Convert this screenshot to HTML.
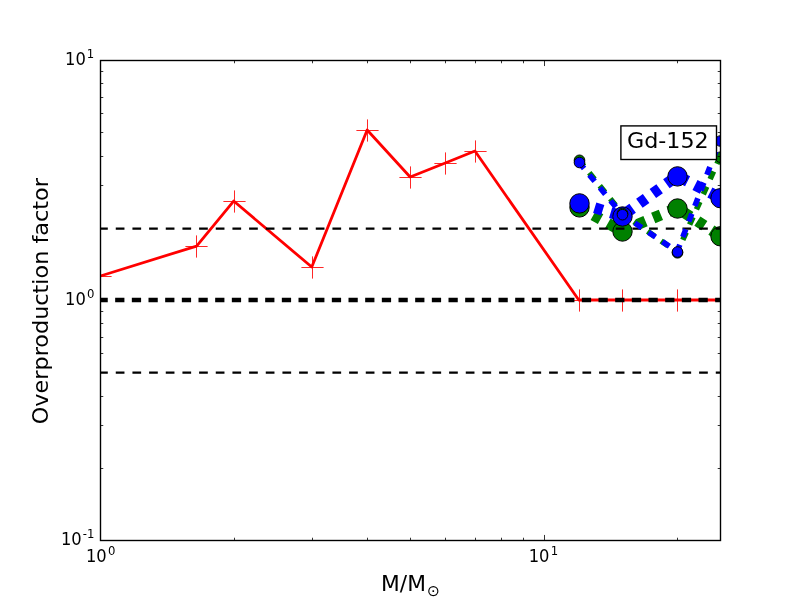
<!DOCTYPE html>
<html><head><meta charset="utf-8"><title>Gd-152 overproduction factor</title>
<style>
html,body{margin:0;padding:0;background:#fff;}
body{width:800px;height:600px;overflow:hidden;}
svg{display:block;}
text{font-family:"DejaVu Sans","Liberation Sans",sans-serif;fill:#000;}
</style></head><body>
<svg width="800" height="600" viewBox="0 0 800 600">
<rect x="0" y="0" width="800" height="600" fill="#ffffff"/>
<defs><clipPath id="ax"><rect x="100.0" y="60.0" width="620.0" height="480.0"/></clipPath></defs>

<g clip-path="url(#ax)">
<polyline points="100.15,276.05 196.61,246.05 233.66,201.05 311.76,267.05 367.17,130.05 410.15,177.05 445.27,163.05 474.96,151.05 578.78,300.00 621.76,300.00 677.17,300.00 720.15,300.00" fill="none" stroke="#ff0000" stroke-width="2.78" stroke-linejoin="round" stroke-linecap="square"/>
<path d="M89.40 276.50H111.60M100.50 265.40V287.60M185.40 246.50H207.60M196.50 235.40V257.60M223.40 201.50H245.60M234.50 190.40V212.60M301.40 267.50H323.60M312.50 256.40V278.60M356.40 130.50H378.60M367.50 119.40V141.60M399.40 177.50H421.60M410.50 166.40V188.60M434.40 163.50H456.60M445.50 152.40V174.60M464.40 151.50H486.60M475.50 140.40V162.60M568.40 300.50H590.60M579.50 289.40V311.60M611.40 300.50H633.60M622.50 289.40V311.60M666.40 300.50H688.60M677.50 289.40V311.60M709.40 300.50H731.60M720.50 289.40V311.60" stroke="#ff0000" stroke-width="0.85" fill="none"/>
<polyline points="578.78,206.95 621.76,231.05 677.17,208.05 720.15,235.85" fill="none" stroke="#008000" stroke-width="11.11" stroke-linejoin="round" stroke-dasharray="8.333 8.333"/>
<circle cx="579.50" cy="207.40" r="9.70" fill="#008000" stroke="#000" stroke-width="1.0"/>
<circle cx="622.50" cy="231.50" r="9.70" fill="#008000" stroke="#000" stroke-width="1.0"/>
<circle cx="677.50" cy="208.50" r="9.70" fill="#008000" stroke="#000" stroke-width="1.0"/>
<circle cx="720.50" cy="236.30" r="9.70" fill="#008000" stroke="#000" stroke-width="1.0"/>
<polyline points="578.78,202.95 621.76,216.05 677.17,175.95 720.15,197.75" fill="none" stroke="#0000ff" stroke-width="11.11" stroke-linejoin="round" stroke-dasharray="8.333 8.333"/>
<circle cx="579.50" cy="203.40" r="9.70" fill="#0000ff" stroke="#000" stroke-width="1.0"/>
<circle cx="622.50" cy="216.50" r="9.70" fill="#0000ff" stroke="#000" stroke-width="1.0"/>
<circle cx="677.50" cy="176.40" r="9.70" fill="#0000ff" stroke="#000" stroke-width="1.0"/>
<circle cx="720.50" cy="198.20" r="9.70" fill="#0000ff" stroke="#000" stroke-width="1.0"/>
<line x1="99.1" x2="730" y1="228.50" y2="228.50" stroke="#000" stroke-width="2.25" stroke-dasharray="8.7 7.967"/>
<line x1="99.1" x2="730" y1="372.50" y2="372.50" stroke="#000" stroke-width="2.25" stroke-dasharray="8.7 7.967"/>
<line x1="98.5" x2="730" y1="300" y2="300" stroke="#000" stroke-width="4.5" stroke-dasharray="9.25 7.417"/>
<polyline points="578.78,159.85 621.76,212.95 677.17,252.35 720.15,156.75" fill="none" stroke="#008000" stroke-width="5.56" stroke-linejoin="round" stroke-dasharray="8.333 8.333"/>
<circle cx="579.50" cy="160.30" r="5.30" fill="#008000" stroke="#000" stroke-width="1.0"/>
<circle cx="622.50" cy="213.40" r="5.30" fill="#008000" stroke="#000" stroke-width="1.0"/>
<circle cx="677.50" cy="252.80" r="5.30" fill="#008000" stroke="#000" stroke-width="1.0"/>
<circle cx="720.50" cy="157.20" r="5.30" fill="#008000" stroke="#000" stroke-width="1.0"/>
<polyline points="578.78,162.05 621.76,214.25 677.17,251.55 720.15,140.55" fill="none" stroke="#0000ff" stroke-width="5.56" stroke-linejoin="round" stroke-dasharray="8.333 8.333"/>
<circle cx="579.50" cy="162.50" r="5.30" fill="#0000ff" stroke="#000" stroke-width="1.0"/>
<circle cx="622.50" cy="214.70" r="5.30" fill="#0000ff" stroke="#000" stroke-width="1.0"/>
<circle cx="677.50" cy="252.00" r="5.30" fill="#0000ff" stroke="#000" stroke-width="1.0"/>
<circle cx="720.50" cy="141.00" r="5.30" fill="#0000ff" stroke="#000" stroke-width="1.0"/>
<rect x="620.9" y="125.9" width="95.6" height="33.6" fill="#fff" stroke="#000" stroke-width="1.39"/>
</g>
<rect x="100.5" y="60.5" width="620.0" height="480.0" fill="none" stroke="#000" stroke-width="1.39"/>
<path d="M100.5 540.5v-5.56M100.5 60.5v5.56M234.5 540.5v-2.78M234.5 60.5v2.78M312.5 540.5v-2.78M312.5 60.5v2.78M367.5 540.5v-2.78M367.5 60.5v2.78M410.5 540.5v-2.78M410.5 60.5v2.78M445.5 540.5v-2.78M445.5 60.5v2.78M475.5 540.5v-2.78M475.5 60.5v2.78M501.5 540.5v-2.78M501.5 60.5v2.78M523.5 540.5v-2.78M523.5 60.5v2.78M544.5 540.5v-5.56M544.5 60.5v5.56M677.5 540.5v-2.78M677.5 60.5v2.78M100.5 540.5h5.56M720.5 540.5h-5.56M100.5 468.5h2.78M720.5 468.5h-2.78M100.5 425.5h2.78M720.5 425.5h-2.78M100.5 396.5h2.78M720.5 396.5h-2.78M100.5 372.5h2.78M720.5 372.5h-2.78M100.5 353.5h2.78M720.5 353.5h-2.78M100.5 337.5h2.78M720.5 337.5h-2.78M100.5 323.5h2.78M720.5 323.5h-2.78M100.5 311.5h2.78M720.5 311.5h-2.78M100.5 300.5h5.56M720.5 300.5h-5.56M100.5 228.5h2.78M720.5 228.5h-2.78M100.5 185.5h2.78M720.5 185.5h-2.78M100.5 156.5h2.78M720.5 156.5h-2.78M100.5 132.5h2.78M720.5 132.5h-2.78M100.5 113.5h2.78M720.5 113.5h-2.78M100.5 97.5h2.78M720.5 97.5h-2.78M100.5 83.5h2.78M720.5 83.5h-2.78M100.5 71.5h2.78M720.5 71.5h-2.78M100.5 60.5h5.56M720.5 60.5h-5.56" stroke="#000" stroke-width="0.8" fill="none"/>
<text transform="translate(65.00 64.80) scale(0.980 1.065)" font-size="16.67">10</text>
<text transform="translate(86.70 58.00) scale(1.000 1.030)" font-size="11.67">1</text>
<text transform="translate(65.00 304.80) scale(0.980 1.065)" font-size="16.67">10</text>
<text transform="translate(87.00 298.00) scale(1.000 1.030)" font-size="11.67">0</text>
<text transform="translate(60.90 544.90) scale(0.980 1.065)" font-size="16.67">10</text>
<text transform="translate(82.70 538.00) scale(1.000 1.030)" font-size="11.67">-1</text>
<text transform="translate(85.90 561.70) scale(0.980 1.065)" font-size="16.67">10</text>
<text transform="translate(107.90 555.00) scale(1.000 1.030)" font-size="11.67">0</text>
<text transform="translate(528.70 561.80) scale(0.980 1.065)" font-size="16.67">10</text>
<text transform="translate(550.70 555.00) scale(1.000 1.030)" font-size="11.67">1</text>
<text transform="translate(381.10 590.60) scale(0.980 0.955)" font-size="22.22">M/M</text>
<text transform="translate(426.90 595.70)" font-size="15.50">⊙</text>
<text transform="translate(48.35 424.20) rotate(-90) scale(1.005 0.970)" font-size="22.22">Overproduction factor</text>
<text transform="translate(627.00 148.00) scale(1.000 0.975)" font-size="22.22">Gd-152</text>
</svg></body></html>
